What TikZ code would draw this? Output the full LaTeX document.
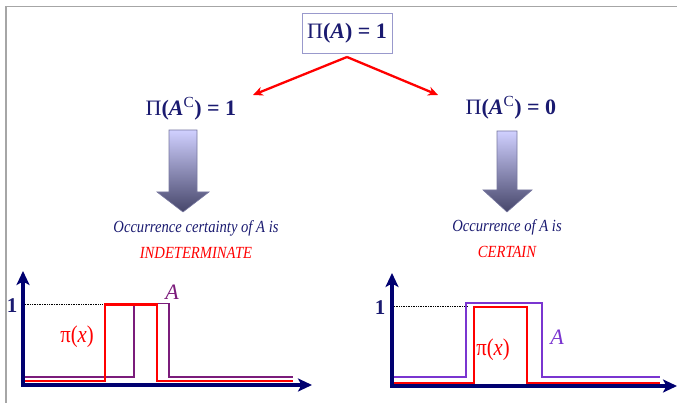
\documentclass[tikz,border=0pt]{standalone}
\usepackage{fontspec}
\setmainfont{Liberation Serif}
\newfontfamily\condit[FakeStretch=0.86]{Liberation Serif}
\usetikzlibrary{arrows.meta}
\definecolor{navy}{HTML}{1A1A70}
\definecolor{axis}{HTML}{000070}
\definecolor{boxb}{HTML}{9999CC}
\definecolor{purpA}{HTML}{7B1C7B}
\definecolor{violA}{HTML}{7A35D0}
\definecolor{arrtop}{HTML}{D0D0FF}
\definecolor{arrbot}{HTML}{46466A}
\definecolor{arrdraw}{HTML}{7878A0}
\tikzset{
  formula/.style={text=navy, font=\fontsize{22}{24}\selectfont\bfseries, inner sep=2pt},
  note/.style={text=navy, font=\condit\fontsize{17}{19}\selectfont\itshape, inner sep=1pt},
  notered/.style={text=red, font=\condit\fontsize{17}{19}\selectfont\itshape, inner sep=1pt},
  redarrow/.style={red, line width=2.3pt, -{Stealth[length=10pt,width=9pt]}},
  axisline/.style={axis, line width=3.2pt, -{Stealth[length=14pt,width=13pt,inset=3.5pt]}},
  blockarrow/.style={top color=arrtop, bottom color=arrbot, draw=arrdraw, line width=0.6pt},
  piline/.style={red, line width=2.8pt, line join=miter},
  aline/.style={line width=1.8pt, line join=miter},
  onelabel/.style={text=navy, font=\fontsize{21}{23}\selectfont\bfseries, inner sep=0pt},
  pilabel/.style={text=red, font=\condit\fontsize{24}{26}\selectfont, inner sep=0pt},
  alabel/.style={font=\fontsize{22}{24}\selectfont\itshape, inner sep=0pt},
  guide/.style={black, line width=0.7pt, densely dotted}
}
\begin{document}
\begin{tikzpicture}[x=1pt,y=-1pt]
\useasboundingbox (0,0) rectangle (677,403);
% frame
\draw[gray!70, line width=1.5pt] (6,403) -- (6,6.5) -- (677,6.5);
% top formula
\node[formula, draw=boxb, line width=0.8pt, minimum width=90pt, minimum height=40pt] (top) at (347,33) {\textmd{Π}(\textit{A}) = 1};
\node[formula] (l) at (191,109) {\textmd{Π}(\textit{A}\textsuperscript{\textmd{C}}) = 1};
\node[formula] (r) at (511,108) {\textmd{Π}(\textit{A}\textsuperscript{\textmd{C}}) = 0};
\coordinate (ltip) at (253,95);
\coordinate (rtip) at (438,95);
\coordinate (split) at (347,57);
\draw[redarrow] (split) -- (ltip);
\draw[redarrow] (split) -- (rtip);
% block arrows
\path[blockarrow] (169,130) -- (197,130) -- (197,192) -- (209,192) -- (183,212) -- (157,192) -- (169,192) -- cycle;
\path[blockarrow] (497,131) -- (517,131) -- (517,190) -- (532,190) -- (507,212) -- (483,190) -- (497,190) -- cycle;
% texts
\node[note] (lt1) at (196,228) {Occurrence certainty of \textit{A} is};
\node[notered] (lt2) at (196,253) {INDETERMINATE};
\node[note] (rt1) at (507,227) {Occurrence of \textit{A} is};
\node[notered] (rt2) at (507,252) {CERTAIN};
% left graph
\coordinate (lo) at (23,385);
\coordinate (ly) at (23,271);
\coordinate (lx) at (312,385);
\draw[guide] (25,304) -- (103,304);
\draw[aline, purpA] (22,377) -- (134,377) -- (134,303.5) -- (169,303.5) -- (169,377) -- (293,377);
\draw[piline] (25,381) -- (105,381) -- (105,304.5) -- (157,304.5) -- (157,381) -- (293,381);
\draw[axisline] ([yshift=1.6pt]lo) -- (ly);
\draw[axisline] ([xshift=-1.6pt]lo) -- (lx);
\node[onelabel] (l1) at (12,306) {1};
\node[pilabel] (lpi) at (77,337) {π(\textit{x})};
\node[alabel, text=purpA] (lA) at (172,292) {A};
% right graph
\coordinate (ro) at (392,386);
\coordinate (ry) at (392,273);
\coordinate (rx) at (677,386);
\draw[guide] (394,306) -- (468,306);
\draw[aline, violA] (392,377) -- (466,377) -- (466,303) -- (542,303) -- (542,377) -- (660,377);
\draw[piline] (394,383) -- (474,383) -- (474,307) -- (527,307) -- (527,383) -- (660,383);
\draw[axisline] ([yshift=1.6pt]ro) -- (ry);
\draw[axisline] ([xshift=-1.6pt]ro) -- (rx);
\node[onelabel] (r1) at (380,308) {1};
\node[pilabel] (rpi) at (493,350) {π(\textit{x})};
\node[alabel, text=violA] (rA) at (557,337) {A};
\end{tikzpicture}
\end{document}
